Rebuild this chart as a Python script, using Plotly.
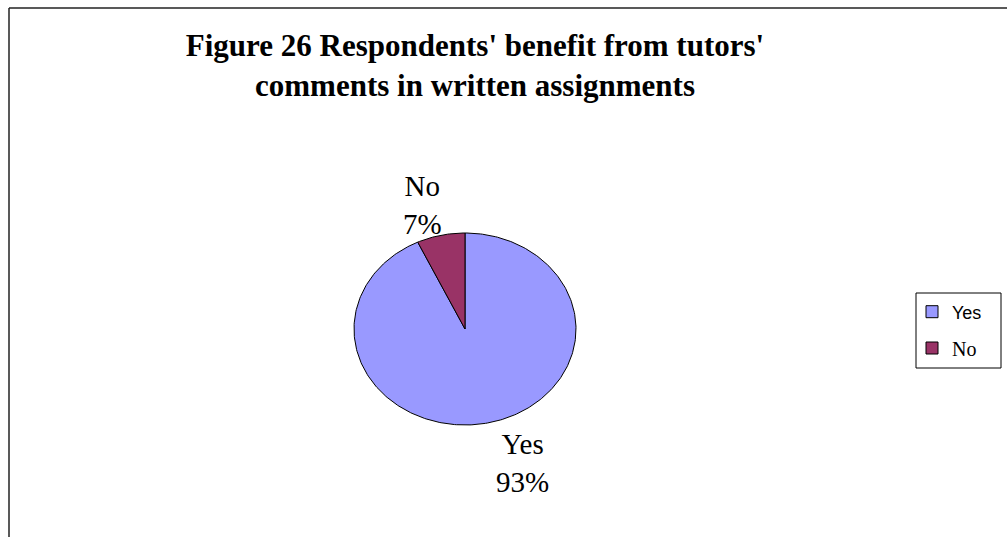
import math
import plotly.graph_objects as go

# ---- data ----
categories = ["Yes", "No"]
percentages = [93, 7]
colors = ["#9999FF", "#993366"]
title_lines = ["Figure 26 Respondents' benefit from tutors'", "comments in written assignments"]

# ---- layout constants (pixels) ----
W, H = 1007, 537
CX, CY = 465, 329      # pie centre
RX, RY = 111, 96       # pie radii (elliptical, as in the reference)

def px(x):
    return x / W

def py(y):
    return 1 - y / H

fig = go.Figure()

# wedges: clockwise from 12 o'clock, computed from the values
total = sum(percentages)
start = 0.0
for cat, val, col in zip(categories, percentages, colors):
    frac = val / total
    a0, a1 = start * 2 * math.pi, (start + frac) * 2 * math.pi
    n = max(8, int(frac * 360))
    xs, ys = [0.0], [0.0]
    for i in range(n + 1):
        t = a0 + (a1 - a0) * i / n
        xs.append(math.sin(t))
        ys.append(math.cos(t))
    xs.append(0.0)
    ys.append(0.0)
    fig.add_trace(go.Scatter(x=xs, y=ys, mode="lines", fill="toself",
                             fillcolor=col, line=dict(color="black", width=1),
                             name=cat, showlegend=False, hoverinfo="name"))
    start += frac

# legend entries (square swatches)
legend_ids = ["legend", "legend2"]
for cat, col, lg in zip(categories, colors, legend_ids):
    fig.add_trace(go.Scatter(x=[None], y=[None], mode="markers", name=cat,
                             marker=dict(symbol="square", size=12, color=col,
                                         line=dict(color="black", width=1)),
                             legend=lg))

# data labels
label_pos = {"Yes": (522, 463), "No": (422, 205)}
annotations = []
for cat, val in zip(categories, percentages):
    lx, ly = label_pos[cat]
    annotations.append(dict(text=f"{cat}<br>{val}%", x=px(lx), y=py(ly), xref="paper", yref="paper",
                            xanchor="center", yanchor="middle", showarrow=False, align="center",
                            font=dict(family="Liberation Serif, Times New Roman, serif",
                                      size=29, color="black")))

shapes = [
    dict(type="line", xref="paper", yref="paper", x0=px(9), y0=py(8), x1=px(1007), y1=py(8),
         line=dict(color="#222222", width=1.5)),
    dict(type="line", xref="paper", yref="paper", x0=px(9), y0=py(8), x1=px(9), y1=py(537),
         line=dict(color="#222222", width=1.5)),
    dict(type="rect", xref="paper", yref="paper", x0=px(916), y0=py(293), x1=px(1001), y1=py(368),
         line=dict(color="black", width=1), fillcolor="rgba(0,0,0,0)"),
]

fig.update_layout(
    width=W, height=H, autosize=False,
    margin=dict(l=0, r=0, t=0, b=0),
    paper_bgcolor="white", plot_bgcolor="white",
    title=dict(text="<b>" + "<br>".join(title_lines) + "</b>",
               x=px(475), xanchor="center", xref="paper",
               y=py(56), yanchor="top", yref="paper",
               font=dict(family="Liberation Serif, Times New Roman, serif", size=31, color="black")),
    xaxis=dict(range=[-CX / RX, (W - CX) / RX], visible=False, fixedrange=True),
    yaxis=dict(range=[-(H - CY) / RY, CY / RY], visible=False, fixedrange=True),
    legend=dict(x=px(912), y=py(312), xanchor="left", yanchor="middle",
                bgcolor="rgba(0,0,0,0)", borderwidth=0,
                font=dict(family="Liberation Sans, Arial, sans-serif", size=18, color="black")),
    legend2=dict(x=px(912), y=py(348), xanchor="left", yanchor="middle",
                 bgcolor="rgba(0,0,0,0)", borderwidth=0,
                 font=dict(family="Liberation Serif, Times New Roman, serif", size=20, color="black")),
    annotations=annotations,
    shapes=shapes,
    showlegend=True,
)

fig.write_html("out.html", config={"displayModeBar": False},
               post_script="document.body.style.margin='0px';")
